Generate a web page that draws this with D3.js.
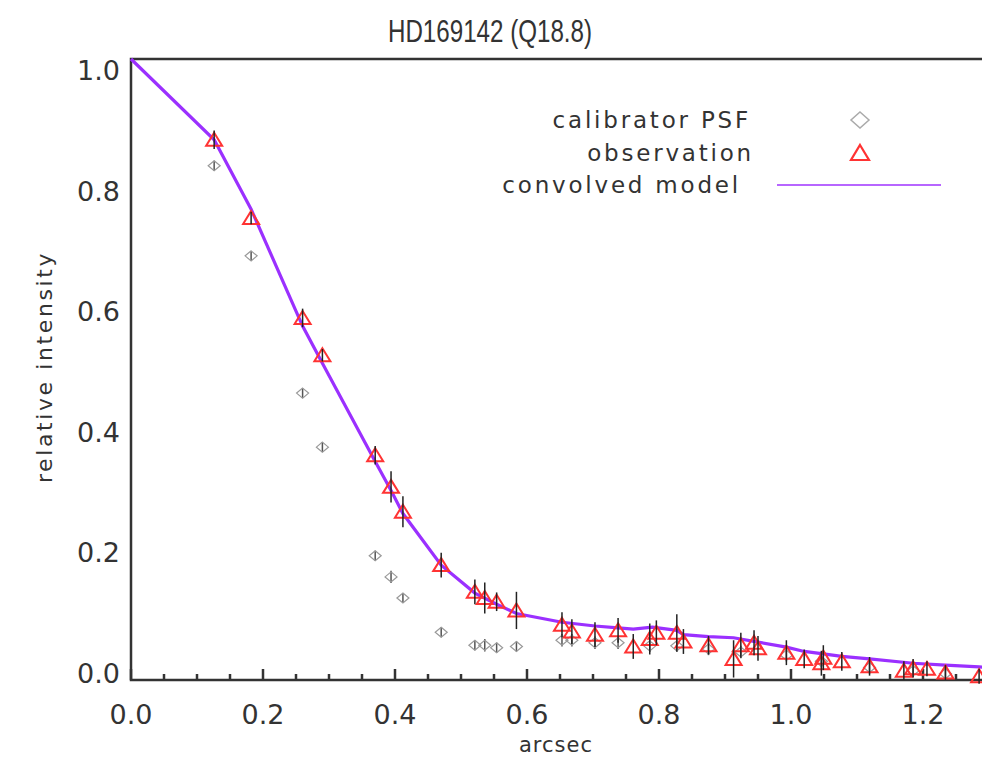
<!DOCTYPE html>
<html>
<head>
<meta charset="utf-8">
<script src="https://cdn.jsdelivr.net/npm/d3@7"></script>
<style>
  body { margin: 0; background: #fff; }
  svg { display: block; }
  text { fill: #333; }
</style>
</head>
<body>
<svg id="chart"></svg>
<script>
const title = "HD169142 (Q18.8)";
const xTicks = [0.0, 0.2, 0.4, 0.6, 0.8, 1.0, 1.2];
const yTicks = [0.0, 0.2, 0.4, 0.6, 0.8, 1.0];

// observation (red triangles)
const obsRadius = [0.126, 0.182, 0.260, 0.290, 0.370, 0.394, 0.412, 0.470, 0.521, 0.536, 0.554, 0.584,
  0.653, 0.668, 0.703, 0.738, 0.761, 0.786, 0.796, 0.827, 0.837, 0.875, 0.913, 0.924, 0.944, 0.950,
  0.993, 1.020, 1.046, 1.049, 1.077, 1.119, 1.171, 1.185, 1.206, 1.234, 1.285];
const obsIntensity = [0.870, 0.744, 0.583, 0.523, 0.362, 0.311, 0.271, 0.185, 0.142, 0.132, 0.126, 0.112,
  0.089, 0.078, 0.073, 0.080, 0.054, 0.066, 0.076, 0.076, 0.062, 0.056, 0.034, 0.056, 0.060, 0.051,
  0.044, 0.034, 0.027, 0.036, 0.030, 0.022, 0.015, 0.019, 0.018, 0.012, 0.006];
const obsError = [0.015, 0.010, 0.015, 0.010, 0.015, 0.025, 0.025, 0.020, 0.020, 0.025, 0.015, 0.030,
  0.020, 0.020, 0.020, 0.020, 0.020, 0.025, 0.020, 0.030, 0.020, 0.015, 0.030, 0.020, 0.020, 0.020,
  0.020, 0.015, 0.020, 0.020, 0.015, 0.015, 0.015, 0.015, 0.012, 0.012, 0.012];

// calibrator PSF (grey diamonds)
const calRadius = [0.126, 0.182, 0.260, 0.290, 0.370, 0.394, 0.412, 0.470, 0.521, 0.536, 0.554, 0.584,
  0.653, 0.668, 0.703, 0.738, 0.786, 0.827, 0.875, 0.924, 0.993, 1.046, 1.119, 1.185, 1.234];
const calIntensity = [0.828, 0.683, 0.462, 0.375, 0.200, 0.166, 0.132, 0.077, 0.056, 0.056, 0.052, 0.054,
  0.064, 0.064, 0.060, 0.060, 0.055, 0.055, 0.050, 0.045, 0.040, 0.030, 0.020, 0.015, 0.010];
const calError = [0.008, 0.008, 0.008, 0.008, 0.008, 0.010, 0.008, 0.008, 0.008, 0.010, 0.008, 0.008,
  0.010, 0.010, 0.010, 0.010, 0.010, 0.010, 0.010, 0.010, 0.010, 0.010, 0.010, 0.010, 0.010];

// convolved model (purple line)
const modelRadius = [0.000, 0.126, 0.182, 0.260, 0.290, 0.370, 0.394, 0.412, 0.470, 0.521, 0.554, 0.584,
  0.653, 0.703, 0.738, 0.761, 0.790, 0.827, 0.837, 0.875, 0.913, 0.950, 0.993, 1.020, 1.049, 1.077,
  1.119, 1.185, 1.234, 1.285, 1.300];
const modelIntensity = [1.000, 0.870, 0.758, 0.570, 0.510, 0.352, 0.305, 0.268, 0.185, 0.140, 0.122, 0.107,
  0.093, 0.087, 0.084, 0.082, 0.085, 0.080, 0.073, 0.070, 0.068, 0.061, 0.053, 0.046, 0.042, 0.038,
  0.034, 0.027, 0.024, 0.021, 0.020];

const width = 982, height = 763;
const plotLeft = 131, plotRight = 989, plotTop = 59, plotBottom = 680;
const axisColor = "#333";
const modelColor = "#9b30ff";
const obsColor = "#ff3333";
const calColor = "#999";

const svg = d3.select("#chart").attr("width", width).attr("height", height);

const x = d3.scaleLinear().domain([0, 1.3]).range([plotLeft, plotRight]);
const y = d3.scaleLinear().domain([0, 1]).range([plotBottom, plotTop]);
// y tick labels sit a little inside the frame ends, as in the original
const yLabel = d3.scaleLinear().domain([0, 1]).range([673, 70]);

// title
svg.append("text")
  .attr("x", 490).attr("y", 42)
  .attr("text-anchor", "middle")
  .attr("textLength", 204)
  .attr("lengthAdjust", "spacingAndGlyphs")
  .style("font-family", "'Liberation Sans', sans-serif")
  .style("font-size", "32px")
  .text(title);

// frame
svg.append("path")
  .attr("d", `M${plotRight},${plotTop}H${plotLeft}V${plotBottom}H${plotRight}`)
  .attr("fill", "none").attr("stroke", axisColor).attr("stroke-width", 2.5);

// x axis ticks (inward), minor every 0.05
const minorTicks = d3.range(0, 1.3001, 0.05);
svg.append("g").selectAll("line")
  .data(minorTicks)
  .join("line")
  .attr("x1", d => x(d)).attr("x2", d => x(d))
  .attr("y1", plotBottom)
  .attr("y2", (d, i) => i % 4 === 0 ? plotBottom - 11 : plotBottom - 6)
  .attr("stroke", axisColor).attr("stroke-width", 2.5);

svg.append("g").selectAll("text")
  .data(xTicks)
  .join("text")
  .attr("x", d => x(d)).attr("y", 724)
  .attr("text-anchor", "middle")
  .style("font-family", "'DejaVu Sans', sans-serif")
  .style("font-size", "27px")
  .text(d => d.toFixed(1));

svg.append("g").selectAll("text")
  .data(yTicks)
  .join("text")
  .attr("x", 120).attr("y", d => yLabel(d) + 10)
  .attr("text-anchor", "end")
  .style("font-family", "'DejaVu Sans', sans-serif")
  .style("font-size", "27px")
  .text(d => d.toFixed(1));

// axis titles
svg.append("text")
  .attr("x", (plotLeft + plotRight) / 2 - 4).attr("y", 752)
  .attr("text-anchor", "middle")
  .style("font-family", "'DejaVu Sans', sans-serif")
  .style("font-size", "21px")
  .style("letter-spacing", "1px")
  .text("arcsec");

svg.append("text")
  .attr("transform", "translate(52,367) rotate(-90)")
  .attr("text-anchor", "middle")
  .style("font-family", "'DejaVu Sans', sans-serif")
  .style("font-size", "22px")
  .style("letter-spacing", "2.6px")
  .text("relative intensity");

const plot = svg.append("g");

// calibrator error bars and diamonds
const cal = calRadius.map((r, i) => ({ r: r, v: calIntensity[i], e: calError[i] }));
plot.append("g").selectAll("line")
  .data(cal)
  .join("line")
  .attr("x1", d => x(d.r)).attr("x2", d => x(d.r))
  .attr("y1", d => y(d.v - d.e)).attr("y2", d => y(d.v + d.e))
  .attr("stroke", "#555").attr("stroke-width", 1.5);

const diamond = "M0,-5L6,0L0,5L-6,0Z";
plot.append("g").selectAll("path")
  .data(cal)
  .join("path")
  .attr("transform", d => `translate(${x(d.r)},${y(d.v)})`)
  .attr("d", diamond)
  .attr("fill", "none").attr("stroke", calColor).attr("stroke-width", 1.2);

// model line
const line = d3.line()
  .x((d, i) => x(modelRadius[i]))
  .y(d => y(d));
plot.append("path")
  .datum(modelIntensity)
  .attr("d", line)
  .attr("fill", "none").attr("stroke", modelColor).attr("stroke-width", 3.2);

// observation error bars and triangles
const obs = obsRadius.map((r, i) => ({ r: r, v: obsIntensity[i], e: obsError[i] }));
const triangle = "M0,-7L8,6L-8,6Z";
plot.append("g").selectAll("path")
  .data(obs)
  .join("path")
  .attr("transform", d => `translate(${x(d.r)},${y(d.v)})`)
  .attr("d", triangle)
  .attr("fill", "none").attr("stroke", obsColor).attr("stroke-width", 2);

plot.append("g").selectAll("line")
  .data(obs)
  .join("line")
  .attr("x1", d => x(d.r)).attr("x2", d => x(d.r))
  .attr("y1", d => y(d.v - d.e)).attr("y2", d => y(d.v + d.e))
  .attr("stroke", "#222").attr("stroke-width", 1.5);

// legend
const legendLabels = ["calibrator PSF", "observation", "convolved model"];
const legendY = [120, 153, 185];
const legendRight = [751, 754, 741];
const legend = svg.append("g");
legend.selectAll("text")
  .data(legendLabels)
  .join("text")
  .attr("x", (d, i) => legendRight[i]).attr("y", (d, i) => legendY[i] + 8)
  .attr("text-anchor", "end")
  .style("font-family", "'DejaVu Sans', sans-serif")
  .style("font-size", "23px")
  .style("letter-spacing", "2.8px")
  .text(d => d);

legend.append("path")
  .attr("transform", `translate(860,${legendY[0]})`)
  .attr("d", "M0,-8L9,0L0,8L-9,0Z")
  .attr("fill", "none").attr("stroke", "#aaa").attr("stroke-width", 1.5);
legend.append("path")
  .attr("transform", `translate(860,${legendY[1]})`)
  .attr("d", "M0,-8L9,7L-9,7Z")
  .attr("fill", "none").attr("stroke", obsColor).attr("stroke-width", 2.2);
legend.append("line")
  .attr("x1", 777).attr("x2", 941)
  .attr("y1", legendY[2]).attr("y2", legendY[2])
  .attr("stroke", "#b766ff").attr("stroke-width", 2);
</script>
</body>
</html>
